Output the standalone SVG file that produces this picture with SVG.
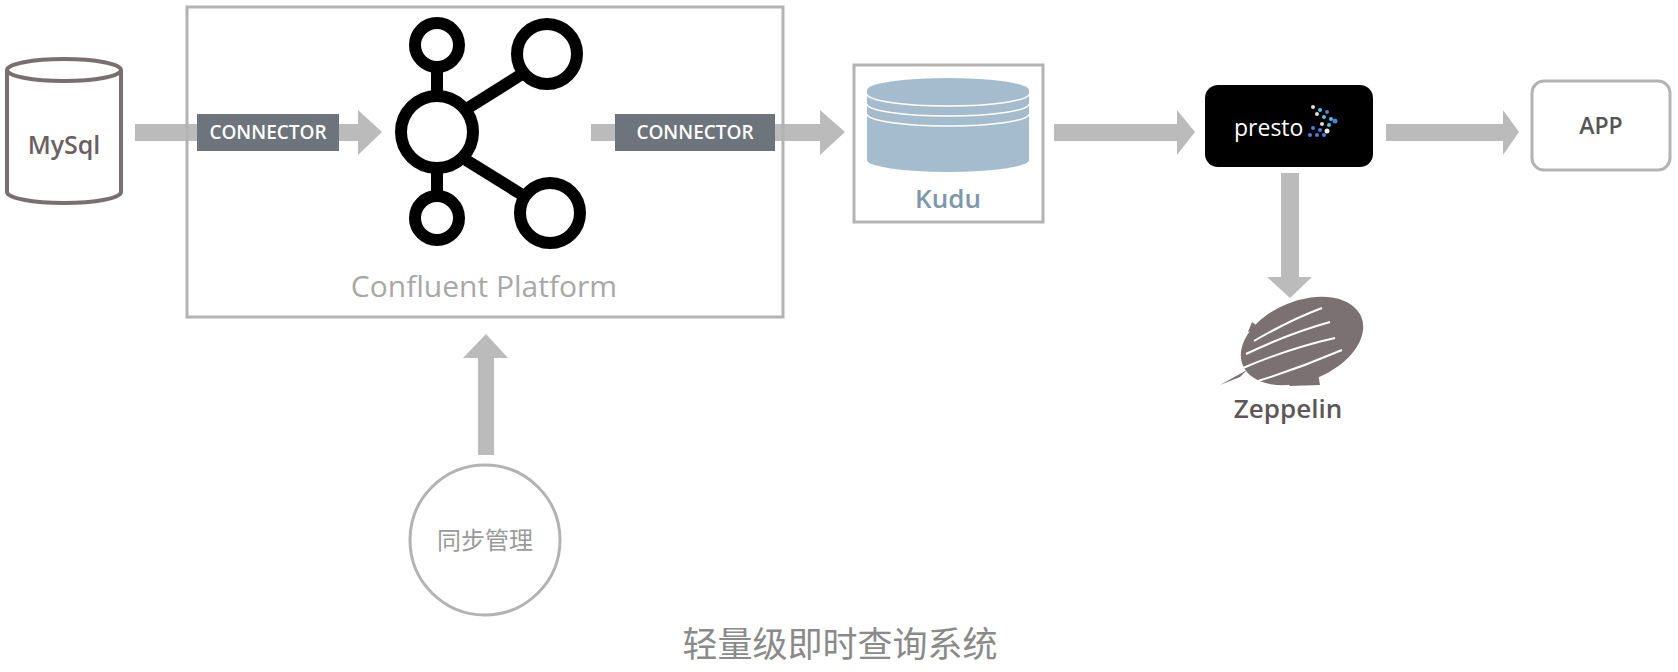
<svg xmlns="http://www.w3.org/2000/svg" width="1678" height="672" viewBox="0 0 1678 672">
<style>
.t{font-family:"Open Sans","Noto Sans",sans-serif}
.arr{fill:#bbbbbb}
.conn{fill:#6d747b}
.ct{fill:#fff;font-size:19px;font-weight:600;text-anchor:middle}
.k{fill:none;stroke:#000;stroke-width:12}
</style>
<rect width="1678" height="672" fill="#fff"/>
<g id="connectors">
<path class="arr" d="M135 124H358V110L382 132L358 155V141H135Z"/>
<path class="arr" d="M591 124H820V110L845 132L820 155V141H591Z"/>
<path class="arr" d="M1054 124H1177V110L1195 132L1177 155V141H1054Z"/>
<path class="arr" d="M1386 124H1503V110L1519 132L1503 155V141H1386Z"/>
<path class="arr" d="M1281 173H1299V277H1312L1290 298L1267 277H1281Z"/>
<path class="arr" d="M478 455V358H463L486 334L508 358H494V455Z"/>
</g>
<g id="mysql">
<path d="M7 70V192A57 11 0 0 0 121 192V70" fill="#fff" stroke="#7a6e70" stroke-width="4"/>
<ellipse cx="64" cy="70" rx="57" ry="11" fill="#fff" stroke="#7a6e70" stroke-width="4"/>
<text class="t" x="64" y="154" font-size="25" font-weight="600" fill="#6b5f62" text-anchor="middle">MySql</text>
</g>
<g id="confluent">
<rect x="187" y="7" width="596" height="310" fill="none" stroke="#b3b3b3" stroke-width="3"/>
<line class="k" x1="437" y1="72" x2="437" y2="92"/>
<line class="k" x1="437" y1="172" x2="437" y2="192"/>
<line class="k" x1="468" y1="108" x2="522" y2="74"/>
<line class="k" x1="466" y1="160" x2="524" y2="196"/>
<circle class="k" cx="437" cy="132" r="36"/>
<circle class="k" cx="437" cy="45" r="22"/>
<circle class="k" cx="547" cy="54" r="30"/>
<circle class="k" cx="437" cy="218" r="22"/>
<circle class="k" cx="550" cy="213" r="30"/>
<text class="t" x="484" y="297" font-size="30" fill="#a8a8a8" text-anchor="middle">Confluent Platform</text>
</g>
<g id="connector1">
<rect class="conn" x="197" y="114" width="142" height="37"/>
<text class="t ct" x="268" y="139">CONNECTOR</text>
</g>
<g id="connector2">
<rect class="conn" x="615" y="114" width="160" height="37"/>
<text class="t ct" x="695" y="139">CONNECTOR</text>
</g>
<g id="kudu">
<rect x="854" y="65" width="189" height="157" fill="#fff" stroke="#b3b3b3" stroke-width="3"/>
<path d="M867 90V160A81 12 0 0 0 1029 160V90Z" fill="#a5bccf"/>
<ellipse cx="948" cy="90" rx="81" ry="12" fill="#a5bccf"/>
<path d="M867 94A81 12 0 0 0 1029 94M867 104A81 12 0 0 0 1029 104M867 114A81 12 0 0 0 1029 114" fill="none" stroke="#fff" stroke-width="1.5"/>
<text class="t" x="948" y="208" font-size="26" font-weight="600" fill="#7e97ab" text-anchor="middle">Kudu</text>
</g>
<g id="presto">
<rect x="1205" y="85" width="168" height="82" rx="13" fill="#000"/>
<text class="t" x="1234" y="136" font-size="23" fill="#fff">presto</text>
<g fill="#4a7ee0">
<circle cx="1313" cy="107" r="2" fill="#ddd"/><circle cx="1320" cy="110" r="2" fill="#4cc4e0"/><circle cx="1327" cy="112" r="2" fill="#4a7ee0"/>
<circle cx="1317" cy="114" r="2" fill="#ddd"/><circle cx="1324" cy="117" r="2" fill="#4cc4e0"/><circle cx="1331" cy="119" r="2" fill="#4cc4e0"/>
<circle cx="1335" cy="121" r="2.5"/><circle cx="1322" cy="124" r="2" fill="#ddd"/><circle cx="1329" cy="125" r="2" fill="#4cc4e0"/>
<circle cx="1313" cy="128" r="2"/><circle cx="1320" cy="130" r="2"/><circle cx="1327" cy="131" r="2.5" fill="#eee"/>
<circle cx="1310" cy="135" r="2"/><circle cx="1317" cy="135" r="2"/><circle cx="1324" cy="135" r="2"/>
</g>
</g>
<g id="app">
<rect x="1532" y="81" width="138" height="89" rx="12" fill="#fff" stroke="#b3b3b3" stroke-width="3"/>
<text class="t" x="1601" y="134" font-size="23" font-weight="600" fill="#555" text-anchor="middle">APP</text>
</g>
<g id="zeppelin">
<ellipse cx="1302" cy="341" rx="64" ry="40" transform="rotate(-22 1302 341)" fill="#7b7172"/>
<path d="M1240 377L1220 385L1247 370Z" fill="#7b7172"/>
<path d="M1248 332L1252 322L1260 328Z" fill="#7b7172"/>
<path d="M1285 378L1318 373L1320 385L1290 386Z" fill="#7b7172"/>
<path d="M1243 368Q1290 348 1335 338M1246 354Q1290 333 1330 322M1254 341Q1290 320 1322 308M1258 381Q1300 368 1342 350" fill="none" stroke="#fff" stroke-width="2"/>
<text class="t" x="1288" y="418" font-size="26" font-weight="600" fill="#5e5658" text-anchor="middle">Zeppelin</text>
</g>
<g id="sync">
<circle cx="485" cy="540" r="75" fill="#fff" stroke="#b3b3b3" stroke-width="3"/>
<text x="485" y="549" font-size="24" fill="#9a9a9a" text-anchor="middle" font-family="Noto Sans CJK SC,sans-serif">同步管理</text>
</g>
<text x="840" y="657" font-size="35" fill="#8a8a8a" text-anchor="middle" font-family="Noto Sans CJK SC,sans-serif">轻量级即时查询系统</text>
</svg>
